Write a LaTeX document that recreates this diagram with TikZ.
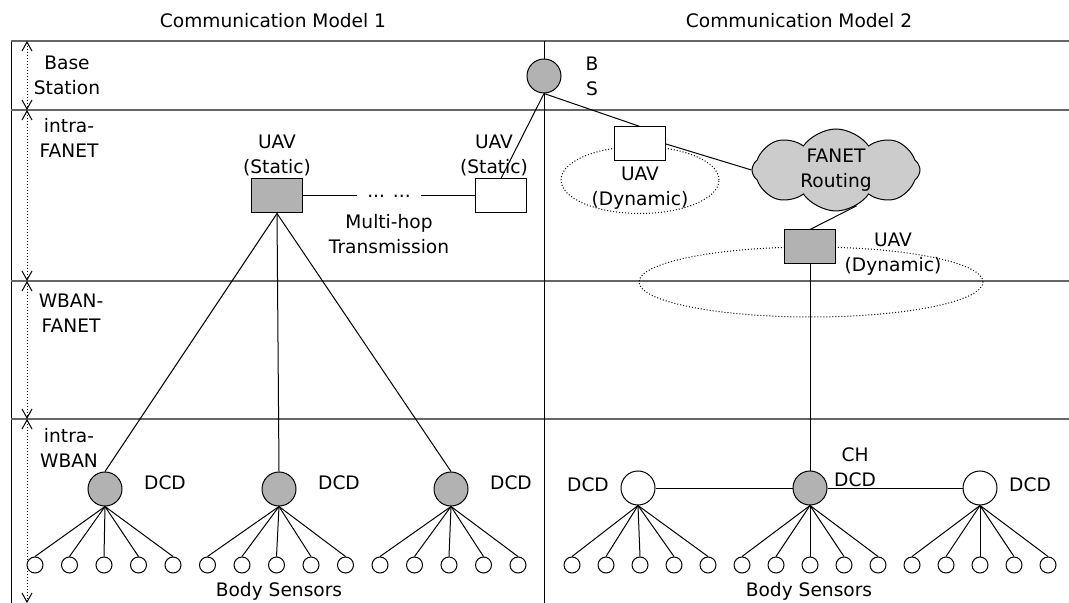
\documentclass[tikz,border=0pt]{standalone}
\usepackage{fontspec}
\setmainfont{DejaVu Sans}
\usepackage{tikz}
\usetikzlibrary{shapes.geometric}
\usetikzlibrary{shapes.symbols}
\usetikzlibrary{arrows.meta}

\tikzset{
  dcd/.style={circle,draw,fill=gray!60,minimum size=17pt,inner sep=0pt},
  dcdw/.style={dcd,fill=white},
  sens/.style={circle,draw,fill=white,minimum size=8pt,inner sep=0pt},
  uav/.style={rectangle,draw,fill=gray!60,minimum width=25.5pt,minimum height=17pt,inner sep=0pt},
  uavw/.style={uav,fill=white},
  zone/.style={ellipse,draw,densely dotted,inner sep=0pt},
  layer/.style={draw=black!60,line width=0.6pt},
  dim/.style={densely dotted,{Straight Barb[length=4.5pt,width=5pt]}-{Straight Barb[length=4.5pt,width=5pt]}},
  txt/.style={align=center,inner sep=1pt}
}

\begin{document}
\begin{tikzpicture}[x=0.5pt,y=-0.5pt,line width=0.5pt,font=\fontsize{9.3}{12.5}\selectfont]
  \useasboundingbox (0,0) rectangle (1069,603);

  % frame and layers
  \draw (11,41) -- (11,603);
  \draw[layer] (11,41) -- (1069,41);
  \draw[layer] (11,110) -- (1069,110);
  \draw[layer] (11,281) -- (1069,281);
  \draw[layer] (11,419) -- (1069,419);
  \draw (544,41) -- (544,603);

  \coordinate (t0) at (27,41);
  \coordinate (t1) at (27,110);
  \coordinate (t2) at (27,281);
  \coordinate (t3) at (27,419);
  \coordinate (t4) at (27,603);
  \draw[dim] (t0) -- (t1);
  \draw[dim] (t1) -- (t2);
  \draw[dim] (t2) -- (t3);
  \draw[dim] (t3) -- (t4);

  \node[txt] at (273,21) (cm1){Communication Model 1};
  \node[txt] at (799,21) (cm2){Communication Model 2};

  \node[txt] at (67,75) (ly1){Base\\Station};
  \node[txt] at (69,138) (ly2){intra-\\FANET};
  \node[txt] at (71,313) (ly3){WBAN-\\FANET};
  \node[txt] at (69,448) (ly4){intra-\\WBAN};

  %% model 1
  \node[uav] at (277,196) (us1){};
  \node[uavw] at (501,196) (us2){};
  \node[txt] at ([yshift=20.5pt]us1) (us1l){UAV\\(Static)};
  \node[txt] at ([xshift=-3.5pt,yshift=20.5pt]us2) (us2l){UAV\\(Static)};
  \draw (us1.east) -- node[fill=white,inner xsep=5pt,inner ysep=0pt] (hop){... ...} (us2.west);
  \node[txt] at ([yshift=-19pt]hop) (hopl){Multi-hop\\Transmission};

  \node[dcd] at (105,489) (dcdl1){};
  \node[dcd] at (279,489) (dcdl2){};
  \node[dcd] at (451,489) (dcdl3){};
  \node[txt] at ([xshift=30pt,yshift=3pt]dcdl1) (dl1){DCD};
  \node[txt] at ([xshift=30pt,yshift=3pt]dcdl2) (dl2){DCD};
  \node[txt] at ([xshift=30pt,yshift=3pt]dcdl3) (dl3){DCD};
  \draw (us1.south) -- (dcdl1.north);
  \draw (us1.south) -- (dcdl2.north);
  \draw (us1.south) -- (dcdl3.north);

  \foreach \i in {0,...,14}{
    \pgfmathtruncatemacro{\g}{\i/5+1}
    \node[sens] at ({35+34.5*\i},565) (snl\i){};
    \draw (dcdl\g.south) -- (snl\i.north);
  }
  \node[txt] at (279,591) (bsl){Body Sensors};

  %% model 2
  \node[dcd] at (544,76) (bs){};
  \node[txt] at ([xshift=24pt]bs) (bsn){B\\S};

  \node[zone,minimum width=79pt,minimum height=33.5pt] at (640,180) (z1){};
  \node[uavw] at (640,144) (ud1){};
  \node[txt] at (640,188) (ud1l){UAV\\(Dynamic)};

  % cloud drawn empty, text put on top so the puffs keep their size
  \node[cloud,draw,fill=gray!40,cloud puffs=8,cloud puff arc=110,minimum width=84pt,minimum height=41pt,inner sep=0pt] at (836,170) (rt){};
  \node[txt] at ([yshift=0pt]rt) (rtl){FANET\\Routing};

  \node[zone,minimum width=172pt,minimum height=35pt] at (811,282) (z2){};
  \node[uav] at (810,247) (ud2){};
  \node[txt] at ([xshift=41.5pt,yshift=-3.5pt]ud2) (ud2l){UAV\\(Dynamic)};

  \draw (bs.south) -- (us2.north);
  \draw (bs.south) -- (ud1.north);
  \draw (ud1.east) -- (rt.west);
  \draw (rt.300) -- (ud2.north);

  \node[dcdw] at (638,488) (dcdr1){};
  \node[dcd] at (810,488) (dcdr2){};
  \node[dcdw] at (980,488) (dcdr3){};
  \node[txt] at ([xshift=-25pt,yshift=1.5pt]dcdr1) (dr1){DCD};
  \node[txt] at ([xshift=22.5pt,yshift=10.5pt]dcdr2) (dr2){CH\\DCD};
  \node[txt] at ([xshift=25pt,yshift=1.5pt]dcdr3) (dr3){DCD};
  \draw (ud2.south) -- (dcdr2.north);
  \draw (dcdr1.east) -- (dcdr2.west);
  \draw (dcdr2.east) -- (dcdr3.west);

  \foreach \i in {0,...,14}{
    \pgfmathtruncatemacro{\g}{\i/5+1}
    \node[sens] at ({572+34*\i},565) (snr\i){};
    \draw (dcdr\g.south) -- (snr\i.north);
  }
  \node[txt] at (809,591) (bsr){Body Sensors};

\end{tikzpicture}
\end{document}
